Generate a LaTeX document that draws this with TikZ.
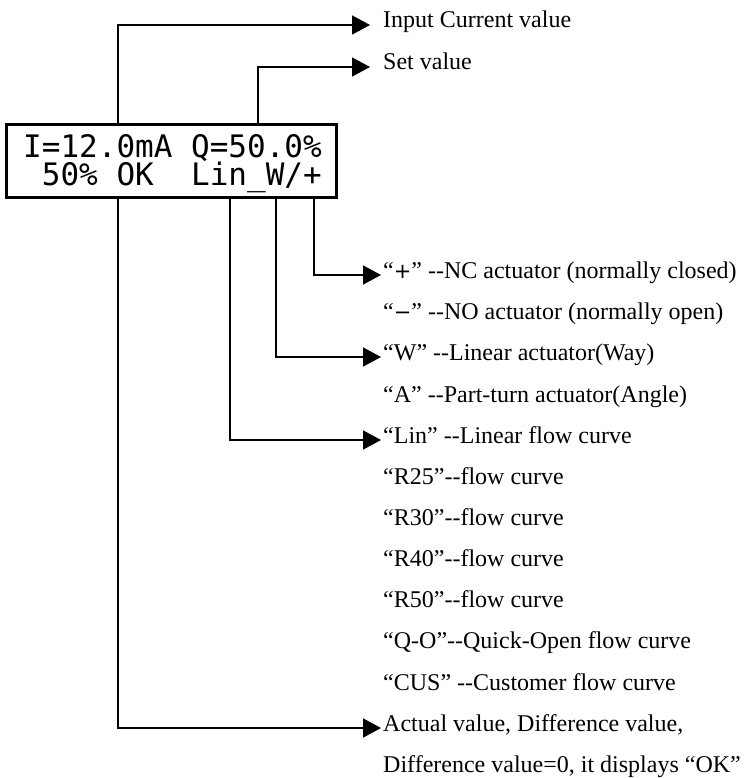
\documentclass[tikz,border=0pt]{standalone}
\usepackage{fontspec}
\setmainfont{Liberation Serif}
\newfontfamily\lcdfont{DejaVu Sans Mono}
\newfontfamily\signfont{DejaVu Sans}
\usepackage{tikz}
\usetikzlibrary{arrows.meta, positioning}

\begin{document}
\begin{tikzpicture}[
  x=1pt, y=-1pt,
  lcdbox/.style={rectangle, draw, line width=3.3pt, minimum width=330pt, minimum height=73pt, inner sep=0pt, anchor=north west},
  lcdtext/.style={inner sep=0pt, anchor=north west, align=left, font=\lcdfont\fontsize{31}{27}\selectfont},
  label/.style={inner sep=0pt, anchor=base west, font=\fontsize{24}{28}\selectfont},
  arrow/.style={-{Triangle[length=18pt, width=19pt]}, line width=1.6pt, shorten >=2pt},
]
\useasboundingbox (0,0) rectangle (745,778);

% display
\node[lcdbox] (lcd) at (5,123) {};
\node[lcdtext] (rows) at (23,134) {I=12.0mA~Q=50.0\%\\~50\%~OK~~Lin\_W/+};

% top labels
\node[label] (inp) at (383,28) {Input Current value};
\node[label] (set) at (383,70) {Set value};

% right column
\node[label] (nc)  at (383,278) {“{\signfont\fontsize{21}{24}\selectfont +}” -{}-NC actuator (normally closed)};
\node[label] (no)  at (383,319) {“{\signfont\fontsize{21}{24}\selectfont −}” -{}-NO actuator (normally open)};
\node[label] (way) at (383,360) {“W” -{}-Linear actuator(Way)};
\node[label] (ang) at (383,402) {“A” -{}-Part-turn actuator(Angle)};
\node[label] (lin) at (383,443) {“Lin” -{}-Linear flow curve};
\node[label] (r25) at (383,484) {“R25”-{}-flow curve};
\node[label] (r30) at (383,525) {“R30”-{}-flow curve};
\node[label] (r40) at (383,566) {“R40”-{}-flow curve};
\node[label] (r50) at (383,607) {“R50”-{}-flow curve};
\node[label] (qo)  at (383,648) {“Q-O”-{}-Quick-Open flow curve};
\node[label] (cus) at (383,690) {“CUS” -{}-Customer flow curve};
\node[label] (act) at (383,731) {Actual value, Difference value,};
\node[label] (dif) at (383,772) {Difference value=0, it displays “OK”};

\draw[arrow, shorten >=13pt] ([xshift=113pt]lcd.north west) |- ([yshift=3pt]inp.base west);
\draw[arrow, shorten >=13pt] ([xshift=253pt]lcd.north west) |- ([yshift=3pt]set.base west);
\draw[arrow] ([xshift=309pt]lcd.south west) |- ([yshift=3pt]nc.base west);
\draw[arrow] ([xshift=271pt]lcd.south west) |- ([yshift=3pt]way.base west);
\draw[arrow] ([xshift=225pt]lcd.south west) |- ([yshift=3pt]lin.base west);
\draw[arrow] ([xshift=113pt]lcd.south west) |- ([yshift=3pt]act.base west);

\end{tikzpicture}
\end{document}
